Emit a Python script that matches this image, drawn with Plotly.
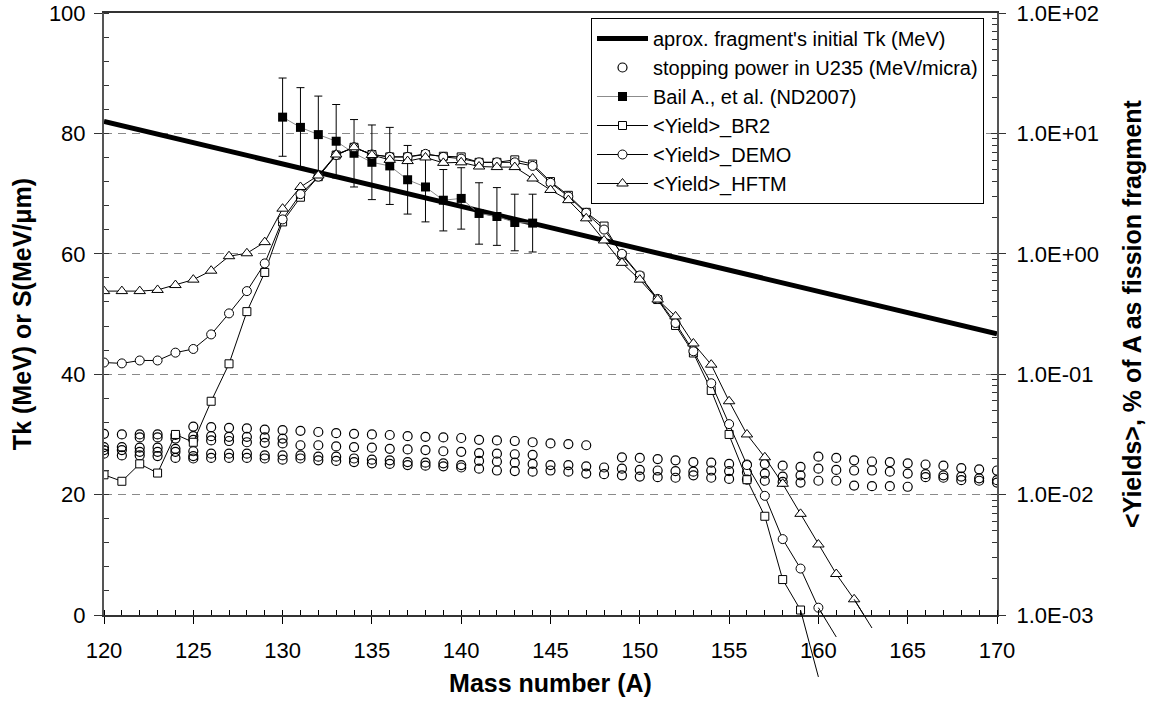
import plotly.graph_objects as go

# ---------------- data ----------------
tk_mass = [120, 170]
tk_energy = [82.0, 46.7]

# stopping power in U235 (MeV/micra): several isobar tracks
sp_t1_mass = list(range(120, 148))
sp_t1 = [30.1, 30.0, 30.0, 30.0, 29.9, 31.3, 31.2, 31.1, 31.0, 30.8, 30.7, 30.6, 30.4, 30.2,
         30.1, 30.0, 29.9, 29.7, 29.6, 29.5, 29.4, 29.1, 29.0, 28.9, 28.7, 28.5, 28.4, 28.2]
sp_t2_mass = list(range(122, 131))
sp_t2 = [29.5, 29.5, 29.3, 29.7, 29.7, 29.6, 29.6, 29.5, 29.3]
sp_t3_mass = list(range(125, 145))
sp_t3 = [29.1, 29.0, 28.9, 28.7, 28.6, 28.5, 28.2, 28.2, 28.0, 27.9, 27.8, 27.6, 27.5, 27.4,
         27.2, 27.1, 26.9, 26.8, 26.7, 26.6]
sp_t4_mass = list(range(120, 154))
sp_t4 = [27.9, 27.9, 27.8, 27.8, 27.6, 27.2, 26.8, 26.8, 26.8, 26.5, 26.5, 26.5, 26.3, 26.3,
         26.0, 25.8, 25.7, 25.4, 25.3, 25.2, 24.9, 25.6, 25.5, 25.3, 25.1, 24.9, 24.9, 24.7,
         24.5, 24.3, 24.1, 24.0, 23.9, 23.8]
sp_t5_mass = list(range(120, 154))
sp_t5 = [27.4, 27.4, 27.1, 27.1, 27.1, 26.4, 26.1, 26.1, 26.1, 26.0, 25.8, 26.0, 25.7, 25.6,
         25.4, 25.2, 25.1, 24.9, 24.8, 24.7, 24.5, 24.3, 24.0, 23.9, 23.8, 24.0, 23.8, 23.5,
         23.4, 23.2, 23.0, 22.9, 22.8, 23.2]
sp_t6_mass = list(range(120, 126))
sp_t6 = [26.8, 26.5, 26.5, 26.4, 26.1, 26.0]
sp_p_mass = list(range(149, 160))
sp_p = [26.2, 26.1, 25.9, 25.7, 25.4, 25.3, 25.1, 25.0, 25.1, 24.8, 24.6]
sp_d_mass = list(range(160, 171))
sp_d = [26.3, 26.1, 25.7, 25.5, 25.4, 25.2, 25.0, 24.8, 24.4, 24.2, 24.0]
sp_q_mass = list(range(154, 171))
sp_q = [24.0, 23.9, 23.7, 23.5, 23.0, 23.2, 24.3, 24.1, 24.0, 24.0, 23.8, 23.5, 23.4, 23.2,
        23.0, 22.7, 22.4]
sp_r_mass = list(range(154, 171))
sp_r = [22.8, 22.6, 22.5, 22.3, 22.1, 22.0, 22.3, 22.3, 21.5, 21.4, 21.4, 21.3, 22.9, 22.8,
        22.4, 22.3, 22.0]

# Bail A., et al. (ND2007): kinetic energy (MeV) with error
bail_mass = list(range(130, 145))
bail_tk = [82.7, 81.0, 79.8, 78.7, 76.7, 75.2, 74.6, 72.3, 71.1, 68.9, 69.2, 66.7, 66.2, 65.2, 65.1]
bail_err = [6.5, 6.6, 6.4, 6.1, 5.6, 6.2, 6.4, 5.7, 5.8, 5.1, 5.1, 5.1, 4.8, 4.7, 4.8]

# mean yields (% of A as fission fragment)
br2_mass = list(range(120, 161))
br2 = [0.0146, 0.0129, 0.0180, 0.0151, 0.0316, 0.0272, 0.0596, 0.122, 0.331, 0.700,
       1.84, 2.95, 4.37, 6.61, 7.67, 6.68, 6.38, 6.38, 6.68, 6.46,
       6.38, 5.75, 5.75, 6.03, 5.56, 3.98, 3.06, 2.21, 1.70, 0.977,
       0.653, 0.417, 0.254, 0.150, 0.0733, 0.0316, 0.0133, 0.00661, 0.00197, 0.00110,
       0.000306]
demo_mass = list(range(120, 162))
demo = [0.125, 0.123, 0.130, 0.130, 0.151, 0.162, 0.214, 0.320, 0.490, 0.832,
        1.93, 3.13, 4.37, 6.61, 7.67, 6.68, 6.38, 6.38, 6.76, 6.38,
        6.17, 5.75, 5.75, 5.75, 5.37, 3.89, 2.99, 2.19, 1.59, 1.00,
        0.661, 0.422, 0.266, 0.155, 0.0841, 0.0385, 0.0176, 0.00977, 0.00427, 0.00243,
        0.00115, 0.000657]
hftm_mass = list(range(120, 164))
hftm = [0.490, 0.490, 0.490, 0.501, 0.550, 0.610, 0.724, 0.955, 1.01, 1.25,
        2.37, 3.59, 4.47, 6.68, 7.67, 6.61, 6.03, 5.89, 6.31, 5.69,
        5.75, 5.31, 5.25, 5.25, 4.22, 3.39, 2.79, 1.97, 1.29, 0.841,
        0.610, 0.417, 0.302, 0.180, 0.120, 0.0596, 0.0316, 0.0204, 0.0123, 0.00692,
        0.00385, 0.00219, 0.00135, 0.000780]

x_ticks = [120, 125, 130, 135, 140, 145, 150, 155, 160, 165, 170]
left_ticks = [0, 20, 40, 60, 80, 100]
right_decades = [1e-3, 1e-2, 1e-1, 1e0, 1e1, 1e2]

# ---------------- figure ----------------
FONT = "Liberation Sans, Arial, sans-serif"
W, H = 1158, 706
ML, MR, MT, MB = 104, 161, 13, 25
plot_h = H - MT - MB
axis_bottom_px = 615
ydom0 = (H - MB - axis_bottom_px) / plot_h
decades_per_px = 5 / (axis_bottom_px - MT)
tail_low = 2 - plot_h * decades_per_px

sp_x, sp_y = [], []
for m, v in [(sp_t1_mass, sp_t1), (sp_t2_mass, sp_t2), (sp_t3_mass, sp_t3),
             (sp_t4_mass, sp_t4), (sp_t5_mass, sp_t5), (sp_t6_mass, sp_t6),
             (sp_p_mass, sp_p), (sp_d_mass, sp_d), (sp_q_mass, sp_q), (sp_r_mass, sp_r)]:
    sp_x += m
    sp_y += v

fig = go.Figure()

fig.add_trace(go.Scatter(x=tk_mass, y=tk_energy, mode="lines",
                         line=dict(color="black", width=5),
                         name="aprox. fragment's initial Tk (MeV)", legendgroup="a"))
fig.add_trace(go.Scatter(x=sp_x, y=sp_y, mode="markers",
                         marker=dict(symbol="circle-open", size=9, color="black",
                                     line=dict(width=1.2, color="black")),
                         name="stopping power in U235 (MeV/micra)", legendgroup="b"))
fig.add_trace(go.Scatter(x=bail_mass, y=bail_tk, mode="lines+markers",
                         line=dict(color="#8c8c8c", width=1),
                         marker=dict(symbol="square", size=9, color="black"),
                         error_y=dict(type="data", array=bail_err, color="black",
                                      thickness=1, width=4),
                         name="Bail A., et al. (ND2007)", legendgroup="c"))

for m, v, sym, sz, nm, g in [(br2_mass, br2, "square", 8, "<Yield>_BR2", "d"),
                              (demo_mass, demo, "circle", 9, "<Yield>_DEMO", "e"),
                              (hftm_mass, hftm, "triangle-up", 10, "<Yield>_HFTM", "f")]:
    fig.add_trace(go.Scatter(x=m, y=v, mode="lines+markers", yaxis="y2",
                             line=dict(color="black", width=1),
                             marker=dict(symbol=sym, size=sz, color="white",
                                         line=dict(color="black", width=1)),
                             name=nm, legendgroup=g))
# unclipped tails beyond the bottom of the log axis
for m, v in [(br2_mass, br2), (demo_mass, demo), (hftm_mass, hftm)]:
    fig.add_trace(go.Scatter(x=m[-2:], y=v[-2:], mode="lines", xaxis="x2", yaxis="y3",
                             line=dict(color="black", width=1), showlegend=False,
                             hoverinfo="skip"))
# helper traces for crossing tick marks
fig.add_trace(go.Scatter(x=[None], y=[None], xaxis="x3", yaxis="y", showlegend=False))
fig.add_trace(go.Scatter(x=[None], y=[None], xaxis="x", yaxis="y4", showlegend=False))

tickfont = dict(family=FONT, size=22, color="black")
titlefont = dict(family=FONT, size=25, color="black", weight="bold")

fig.update_layout(
    width=W, height=H,
    margin=dict(l=ML, r=MR, t=MT, b=MB, autoexpand=False),
    paper_bgcolor="white", plot_bgcolor="rgba(0,0,0,0)",
    font=dict(family=FONT, color="black"),
    xaxis=dict(domain=[0, 1], range=[120, 170], anchor="y", automargin=False,
               tickmode="array", tickvals=x_ticks, ticks="outside", ticklen=7,
               tickcolor="black", tickwidth=1, tickfont=tickfont, ticklabelstandoff=8,
               showline=True, linecolor="#333", linewidth=2, mirror=True,
               showgrid=False, zeroline=False,
               minor=dict(ticks="inside", ticklen=5, dtick=1, tick0=120,
                          tickcolor="black", showgrid=False),
               title=dict(text="Mass number (A)", font=titlefont, standoff=12)),
    xaxis2=dict(domain=[0, 1], range=[120, 170], anchor="y3", visible=False,
                automargin=False),
    xaxis3=dict(overlaying="x", range=[120, 170], anchor="y", side="bottom",
                automargin=False,
                tickmode="array", tickvals=x_ticks, ticks="inside", ticklen=5,
                tickcolor="black", showticklabels=False, showline=False,
                showgrid=False, zeroline=False),
    yaxis=dict(domain=[ydom0, 1], range=[0, 100], anchor="x", automargin=False,
               tickmode="array", tickvals=left_ticks, ticks="outside", ticklen=8,
               tickcolor="#333", tickwidth=1, tickfont=tickfont, ticklabelstandoff=4,
               showline=True, linecolor="#555", linewidth=2,
               showgrid=True, gridcolor="#8a8a8a", gridwidth=1, griddash="8px,6px",
               zeroline=False,
               minor=dict(ticks="inside", ticklen=5, dtick=4, tick0=0,
                          tickcolor="#333", showgrid=False),
               title=dict(text="Tk (MeV) or S(MeV/\u03bcm)", font=titlefont, standoff=10)),
    yaxis2=dict(overlaying="y", side="right", anchor="x", type="log", range=[-3, 2],
                automargin=False,
                tickmode="array", tickvals=right_decades,
                ticktext=[f"{v:.1E}" for v in right_decades],
                ticks="outside", ticklen=7, tickcolor="#333", tickfont=tickfont,
                ticklabelstandoff=6,
                showline=True, linecolor="#555", linewidth=2, showgrid=False,
                zeroline=False,
                minor=dict(ticks="inside", ticklen=5, tickcolor="#333", showgrid=False,
                           tickvals=[k * d for d in right_decades[:-1] for k in range(2, 10)]),
                title=dict(text="<Yields>, % of A as fission fragment", font=titlefont,
                           standoff=26)),
    yaxis3=dict(domain=[0, 1], type="log", range=[tail_low, 2], anchor="x2", visible=False,
                automargin=False),
    yaxis4=dict(overlaying="y", side="right", anchor="x", type="log", range=[-3, 2],
                automargin=False,
                tickmode="array", tickvals=right_decades, ticks="inside", ticklen=6,
                tickcolor="#333", showticklabels=False, showline=False, showgrid=False,
                zeroline=False),
    legend=dict(x=(591 - ML) / (W - ML - MR), y=(H - MB - 18) / plot_h,
                xanchor="left", yanchor="top",
                bgcolor="white", bordercolor="black", borderwidth=1,
                font=dict(family=FONT, size=20, color="black"),
                traceorder="grouped", tracegroupgap=0, itemwidth=51),
    showlegend=True,
)

fig.write_html("out.html")
